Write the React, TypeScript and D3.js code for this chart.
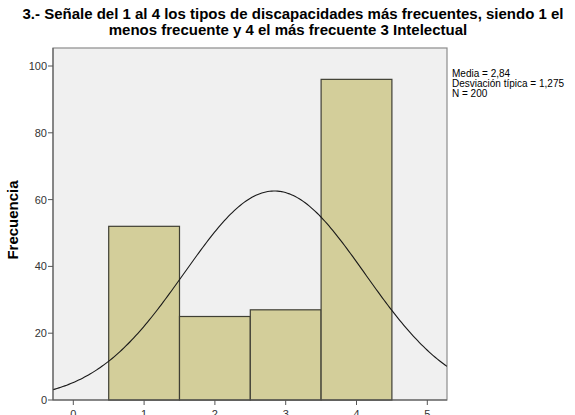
import React from "react";
import * as d3 from "d3";

const binCenters = [1, 2, 3, 4];
const frequencies = [52, 25, 27, 96];
const yTicks = [0, 20, 40, 60, 80, 100];
const xTicks = [0, 1, 2, 3, 4, 5];
const mean = 2.84;
const stdDev = 1.275;
const n = 200;
const titleLines = [
  "3.- Señale del 1 al 4 los tipos de discapacidades más frecuentes, siendo 1 el",
  "menos frecuente y 4 el más frecuente 3 Intelectual",
];
const statsLines = ["Media = 2,84", "Desviación típica = 1,275", "N = 200"];

export default function App() {
  const W = 575, H = 415;
  const left = 53, right = 447, top = 48, bottom = 400;
  const x = d3.scaleLinear().domain([0, 5]).range([73.3, 427.3]);
  const y = d3.scaleLinear().domain([0, 100]).range([bottom, 66]);
  const xMin = x.invert(left), xMax = x.invert(right);
  const pdf = (v: number) => (n * 1 / (stdDev * Math.sqrt(2 * Math.PI))) * Math.exp(-0.5 * ((v - mean) / stdDev) ** 2);
  const pts = d3.range(0, 201).map((i) => xMin + (xMax - xMin) * i / 200);
  const line = d3.line<number>().x((v) => x(v)).y((v) => y(pdf(v))).curve(d3.curveLinear);
  const font = "'Liberation Sans', Arial, sans-serif";
  const titleX = [293, 288];
  return (
    <svg width={W} height={H} style={{ position: "absolute", left: 0, top: 0 }} fontFamily={font}>
      <rect x={0} y={0} width={W} height={H} fill="#fff" />
      {titleLines.map((t, i) => (
        <text key={i} x={titleX[i]} y={18.5 + i * 16.5} textAnchor="middle" fontSize={15} fontWeight="bold" fill="#000">{t}</text>
      ))}
      <rect x={left} y={top} width={right - left} height={bottom - top} fill="#F0F0F0" stroke="#8c8c8c" strokeWidth={1.2} />
      <defs>
        <clipPath id="plotclip"><rect x={left} y={top} width={right - left} height={bottom - top} /></clipPath>
      </defs>
      {binCenters.map((c, i) => (
        <rect key={i} x={x(c - 0.5)} y={y(frequencies[i])} width={x(c + 0.5) - x(c - 0.5)} height={bottom - y(frequencies[i])}
          fill="#D3CE9A" stroke="#3f3f34" strokeWidth={1.2} />
      ))}
      <path d={line(pts) || ""} fill="none" stroke="#1a1a1a" strokeWidth={1.1} clipPath="url(#plotclip)" />
      {yTicks.map((t) => (
        <g key={t}>
          <line x1={left - 5} x2={left} y1={y(t)} y2={y(t)} stroke="#555" />
          <text x={left - 6} y={y(t) + 4} textAnchor="end" fontSize={11} fill="#333">{t}</text>
        </g>
      ))}
      {xTicks.map((t) => (
        <g key={t}>
          <line x1={x(t)} x2={x(t)} y1={bottom} y2={bottom + 5} stroke="#555" />
          <text x={x(t)} y={bottom + 18} textAnchor="middle" fontSize={11} fill="#333">{t}</text>
        </g>
      ))}
      <line x1={left} x2={right} y1={bottom} y2={bottom} stroke="#555" />
      <line x1={left} x2={left} y1={top} y2={bottom} stroke="#555" />
      <text transform={`translate(18,220) rotate(-90)`} textAnchor="middle" fontSize={15} fontWeight="bold" fill="#000">Frecuencia</text>
      {statsLines.map((s, i) => (
        <text key={i} x={452} y={77 + i * 10} fontSize={10} fill="#000">{s}</text>
      ))}
    </svg>
  );
}
